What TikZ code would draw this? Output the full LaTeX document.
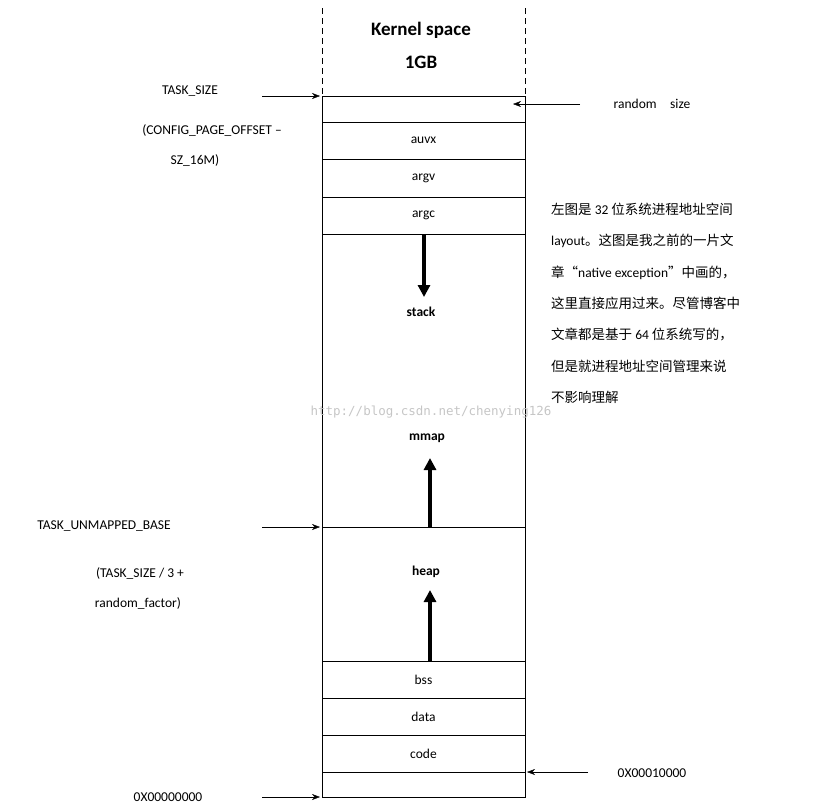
\documentclass[tikz,border=0pt]{standalone}
\usepackage{fontspec}
\setmainfont{Carlito}
\newfontfamily\cjk{Noto Sans CJK SC}
\newfontfamily\wmfont{DejaVu Sans Mono}
\usetikzlibrary{arrows.meta}
\tikzset{
	cell/.style={draw,minimum width=203pt,inner sep=0pt,font=\fontsize{13.5}{15}\selectfont},
	lbl/.style={font=\fontsize{13.5}{15}\selectfont,inner sep=0pt},
	ptr/.style={-{Stealth[length=8pt,width=6pt]},thin},
	growarrow/.style={-{Triangle[length=12pt,width=12pt]},line width=3.5pt}
}
\begin{document}
\begin{tikzpicture}[x=1pt,y=-1pt]
	\useasboundingbox (0,0) rectangle (837,807);
	% kernel space
	\draw[dash pattern=on 6pt off 4pt] (322,8) -- (322,96);
	\draw[dash pattern=on 6pt off 4pt] (525,8) -- (525,96);
	\node[lbl,font=\fontsize{19}{21}\selectfont\bfseries] (kernel) at (421,30) {Kernel space};
	\node[lbl,font=\fontsize{19}{21}\selectfont\bfseries] (gb) at (421,62) {1GB};
	% user space column
	\draw (322,96) rectangle (525,797);
	\draw (322,122) -- (525,122);
	\node[cell,minimum height=37pt] (auvx) at (423.5,140.5) {auvx};
	\node[cell,minimum height=38pt] (argv) at (423.5,178) {argv};
	\node[cell,minimum height=37pt] (argc) at (423.5,215.5) {argc};
	\draw (322,527) -- (525,527);
	\draw (322,661) -- (525,661);
	\node[cell,minimum height=37pt] (bss) at (423.5,679.5) {bss};
	\node[cell,minimum height=37pt] (data) at (423.5,716.5) {data};
	\node[cell,minimum height=37pt] (code) at (423.5,753.5) {code};
	\node[lbl,font=\fontsize{13.5}{15}\selectfont\bfseries] (stack) at (421,312) {stack};
	\node[lbl,font=\fontsize{13.5}{15}\selectfont\bfseries] (mmap) at (427,438) {mmap};
	\node[lbl,font=\fontsize{13.5}{15}\selectfont\bfseries] (heap) at (426,572) {heap};
	\coordinate (stacktop) at (424,234);
	\coordinate (mmapbot) at (430,527);
	\coordinate (heapbot) at (430,661);
	\draw[growarrow] (stacktop) -- (424,297);
	\draw[growarrow] (mmapbot) -- (430,458);
	\draw[growarrow] (heapbot) -- (430,590);
	% left labels
	\node[lbl] (tasksize) at (190,91) {TASK\_SIZE};
	\node[lbl] (cfg) at (212,130) {(CONFIG\_PAGE\_OFFSET –};
	\node[lbl] (sz) at (195,160) {SZ\_16M)};
	\node[lbl] (unmapped) at (104,526) {TASK\_UNMAPPED\_BASE};
	\node[lbl] (ts3) at (140,573) {(TASK\_SIZE / 3 +};
	\node[lbl] (rf) at (138,603) {random\_factor)};
	\node[lbl] (zero) at (168,797) {0X00000000};
	\draw[ptr] (262,96) -- (320,96);
	\draw[ptr] (262,527) -- (320,527);
	\draw[ptr] (262,797) -- (320,797);
	% right labels
	\node[lbl] (random) at (652,104) {random\quad size};
	\node[lbl] (codebase) at (652,773) {0X00010000};
	\draw[ptr] (580,104) -- (513,104);
	\draw[ptr] (588,772) -- (527,772);
	\node[lbl,anchor=north west,align=left,font=\fontsize{13.5}{31.3}\selectfont] (note) at (551,203)
	{{\cjk 左图是} 32 {\cjk 位系统进程地址空间}\\
	 layout{\cjk 。这图是我之前的一片文}\\
	 {\cjk 章“}native exception{\cjk ”中画的，}\\
	 {\cjk 这里直接应用过来。尽管博客中}\\
	 {\cjk 文章都是基于} 64 {\cjk 位系统写的，}\\
	 {\cjk 但是就进程地址空间管理来说}\\
	 {\cjk 不影响理解}};
	\node[lbl,font=\wmfont\fontsize{12.5}{14}\selectfont,text=gray!45] (wm) at (431,412) {http://blog.csdn.net/chenying126};
\end{tikzpicture}
\end{document}
